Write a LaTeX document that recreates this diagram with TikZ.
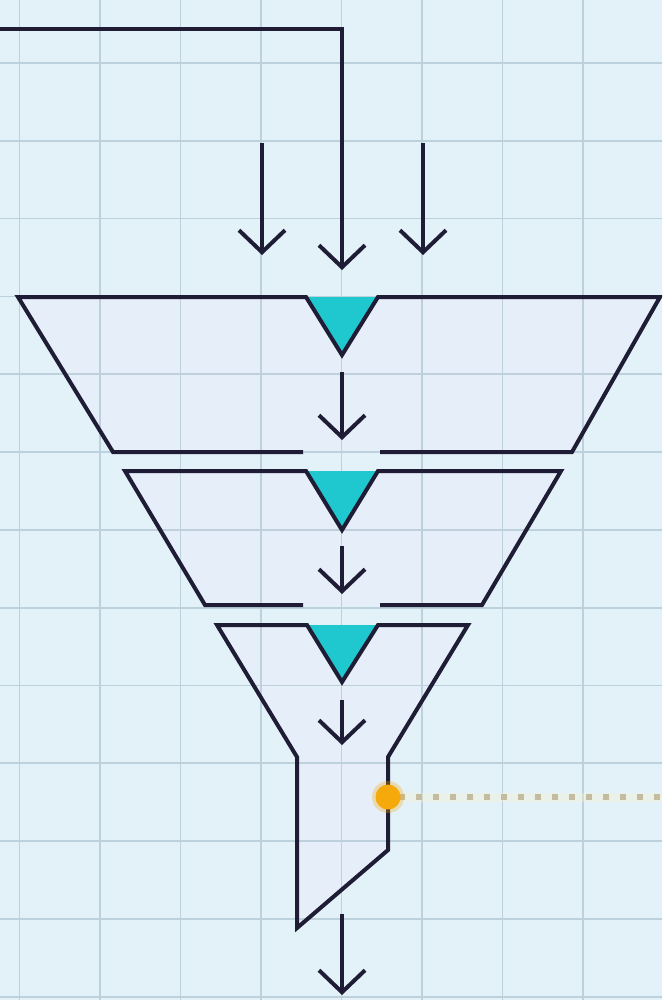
\documentclass[tikz,border=0pt]{standalone}
\usetikzlibrary{arrows.meta}
\definecolor{bg}{HTML}{E3F2F9}
\definecolor{gridc}{HTML}{BDD1DD}
\definecolor{ink}{HTML}{1F1C36}
\definecolor{cyanf}{HTML}{1FC7CF}
\definecolor{orangec}{HTML}{F6A90A}
\definecolor{dotc}{HTML}{C4BCA0}
\definecolor{halo}{HTML}{F5F0D2}
\definecolor{fillc}{HTML}{E6EEF9}
\begin{document}
\begin{tikzpicture}[x=1pt,y=-1pt,line join=miter,
  inkline/.style={draw=ink,line width=4pt},
  flow/.style={inkline,-{Straight Barb[length=22pt,width=46pt,line width=4pt]}},
  gridline/.style={draw=gridc,line width=1.8pt},
  tri/.style={fill=cyanf}]
\useasboundingbox (0,0) rectangle (662,1000);
\clip (0,0) rectangle (662,1000);
\fill[bg] (0,0) rectangle (662,1000);
% shape fills
\fill[fillc] (113,452) -- (18,297) -- (660,297) -- (572,452) -- cycle;
\fill[fillc] (205,605) -- (125,471) -- (561,471) -- (482,605) -- cycle;
\fill[fillc] (297,928) -- (297,757) -- (217,625) -- (468,625) -- (388,757) -- (388,850) -- cycle;
% grid
\foreach \i in {0,...,8} \draw[gridline] ({19.5+80.5*\i},0) -- ({19.5+80.5*\i},1000);
\foreach \j in {0,...,12} \draw[gridline] (0,{63+77.8*\j}) -- (662,{63+77.8*\j});
% cyan triangles
\fill[tri] (306,297) -- (342,355) -- (378,297) -- cycle;
\fill[tri] (306,471) -- (342,530) -- (378,471) -- cycle;
\fill[tri] (307,625) -- (342,682) -- (378,625) -- cycle;
% outlines
\draw[inkline] (303,452) -- (113,452) -- (18,297) -- (306,297) -- (342,355) -- (378,297) -- (660,297) -- (572,452) -- (380,452);
\draw[inkline] (303,605) -- (205,605) -- (125,471) -- (306,471) -- (342,530) -- (378,471) -- (561,471) -- (482,605) -- (380,605);
\draw[inkline] (297,928) -- (297,757) -- (217,625) -- (307,625) -- (342,682) -- (378,625) -- (468,625) -- (388,757) -- (388,850) -- cycle;
% connectors
\coordinate (feed) at (-5,29);
\coordinate (bend) at (342,29);
\coordinate (t1) at (342,270);
\coordinate (la) at (262,143);
\coordinate (lb) at (262,255);
\coordinate (ra) at (423,143);
\coordinate (rb) at (423,255);
\coordinate (a1) at (342,372);
\coordinate (b1) at (342,440);
\coordinate (a2) at (342,546);
\coordinate (b2) at (342,594);
\coordinate (a3) at (342,700);
\coordinate (b3) at (342,745);
\coordinate (a4) at (342,914);
\coordinate (b4) at (342,995);
\draw[flow] (feed) -- (bend) -- (t1);
\draw[flow] (la) -- (lb);
\draw[flow] (ra) -- (rb);
\draw[flow] (a1) -- (b1);
\draw[flow] (a2) -- (b2);
\draw[flow] (a3) -- (b3);
\draw[flow] (a4) -- (b4);
% sensor
\coordinate (sensor) at (388,797);
\coordinate (sensorend) at (670,797);
\draw[halo,line width=9pt,opacity=0.4] (sensor) -- (sensorend);
\draw[dotc,line width=5.5pt,dash pattern=on 5.5pt off 11.5pt,dash phase=-11pt] (sensor) -- (sensorend);
\fill[orangec,opacity=0.3] (sensor) circle (16);
\fill[orangec] (sensor) circle (12.5);
\end{tikzpicture}
\end{document}
